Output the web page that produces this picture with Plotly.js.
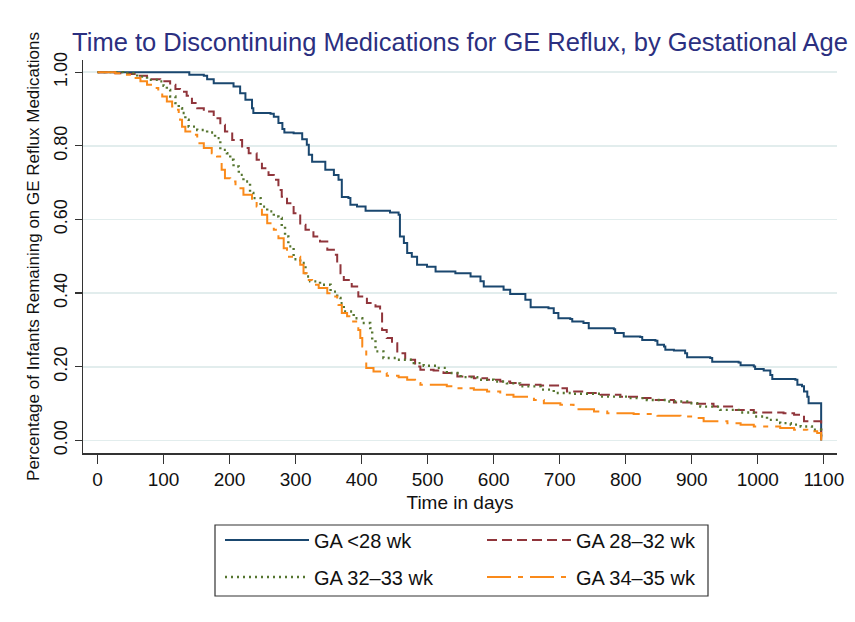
<!DOCTYPE html>
<html>
<head>
<meta charset="utf-8">
<script src="https://cdn.plot.ly/plotly-3.0.1.min.js"></script>
<style>
  html, body { margin: 0; padding: 0; background: #ffffff; }
  #chart { width: 855px; height: 622px; }
</style>
</head>
<body>
<div id="chart"></div>
<script>
// ---- Data (Kaplan-Meier step estimates) ----
const seriesNames = ["GA <28 wk", "GA 28\u201332 wk", "GA 32\u201333 wk", "GA 34\u201335 wk"];

const daysLt28 = [0,139,161,166,176,206,216,224,234,236,262,267,274,280,283,297,310,317,320,325,345,358,365,370,380,383,393,406,443,456,458,464,469,476,484,499,512,542,565,580,585,615,625,648,656,683,691,698,716,719,736,744,782,784,797,822,825,845,848,858,860,873,890,893,928,931,971,974,994,996,1009,1019,1022,1057,1060,1067,1070,1075,1077,1096];
const survLt28 = [1.0,0.993,0.99,0.981,0.970,0.961,0.943,0.925,0.902,0.889,0.887,0.879,0.862,0.846,0.836,0.834,0.818,0.803,0.776,0.757,0.735,0.721,0.708,0.661,0.658,0.640,0.635,0.624,0.619,0.613,0.554,0.536,0.509,0.499,0.477,0.472,0.459,0.454,0.445,0.432,0.418,0.409,0.398,0.382,0.362,0.359,0.346,0.332,0.330,0.323,0.319,0.305,0.302,0.292,0.282,0.281,0.273,0.271,0.260,0.255,0.246,0.244,0.237,0.226,0.224,0.214,0.212,0.204,0.201,0.194,0.190,0.178,0.167,0.165,0.151,0.147,0.133,0.119,0.101,0.0];

const days28to32 = [0,27,45,60,75,95,110,118,125,135,143,151,161,176,186,193,204,219,229,241,249,259,267,274,279,287,297,307,315,327,337,348,358,363,368,373,385,395,408,421,428,431,438,446,454,466,481,489,509,524,545,570,590,610,625,640,671,701,711,736,762,792,822,842,873,903,933,964,994,1039,1055,1070,1096];
const surv28to32 = [1.0,0.997,0.995,0.99,0.981,0.975,0.966,0.954,0.947,0.936,0.916,0.902,0.893,0.875,0.857,0.839,0.816,0.794,0.780,0.762,0.739,0.721,0.708,0.680,0.662,0.644,0.617,0.586,0.572,0.554,0.540,0.518,0.504,0.482,0.454,0.436,0.418,0.391,0.373,0.364,0.350,0.300,0.278,0.264,0.237,0.219,0.201,0.192,0.190,0.183,0.174,0.169,0.165,0.160,0.156,0.151,0.149,0.142,0.133,0.129,0.124,0.119,0.115,0.110,0.103,0.100,0.092,0.083,0.076,0.074,0.070,0.052,0.0];

const days32to33 = [0,39,60,75,95,100,105,110,118,123,128,133,138,151,166,178,186,196,201,206,214,221,231,236,247,257,267,274,279,284,289,297,307,315,322,337,353,363,368,373,388,401,413,416,421,433,454,479,494,514,529,550,575,600,620,640,671,691,721,762,802,832,863,893,913,943,974,994,1014,1034,1050,1065,1082,1096];
const surv32to33 = [1.0,0.997,0.988,0.979,0.975,0.963,0.952,0.934,0.916,0.902,0.889,0.871,0.852,0.843,0.836,0.821,0.789,0.780,0.762,0.744,0.721,0.703,0.672,0.658,0.635,0.622,0.608,0.604,0.581,0.554,0.527,0.492,0.482,0.445,0.432,0.423,0.404,0.387,0.373,0.350,0.332,0.319,0.305,0.273,0.242,0.224,0.219,0.210,0.203,0.197,0.183,0.172,0.165,0.160,0.155,0.147,0.138,0.129,0.127,0.119,0.115,0.110,0.106,0.101,0.092,0.083,0.076,0.065,0.056,0.047,0.043,0.038,0.029,0.0];

const days34to35 = [0,27,42,52,65,75,85,92,98,105,113,118,123,125,128,133,143,151,161,173,181,188,193,201,209,221,234,241,249,257,267,274,282,287,307,312,317,325,335,348,358,363,365,370,378,385,395,398,401,406,407,418,428,438,456,469,481,489,529,545,570,590,610,630,661,676,701,721,752,772,812,848,883,903,918,954,974,994,1034,1055,1075,1090,1096];
const surv34to35 = [1.0,0.997,0.993,0.984,0.975,0.966,0.957,0.947,0.934,0.920,0.907,0.898,0.889,0.871,0.852,0.839,0.830,0.807,0.794,0.780,0.771,0.735,0.712,0.703,0.685,0.667,0.653,0.635,0.613,0.590,0.572,0.549,0.522,0.499,0.477,0.454,0.436,0.423,0.414,0.400,0.391,0.382,0.368,0.346,0.337,0.323,0.300,0.278,0.255,0.246,0.197,0.187,0.183,0.176,0.172,0.165,0.156,0.151,0.147,0.142,0.138,0.133,0.124,0.119,0.110,0.101,0.097,0.085,0.079,0.074,0.072,0.067,0.065,0.061,0.052,0.047,0.043,0.038,0.034,0.029,0.025,0.020,0.0];

const xTickVals = [0,100,200,300,400,500,600,700,800,900,1000,1100];
const yTickVals = [0,0.2,0.4,0.6,0.8,1.0];
const yTickText = ["0.00","0.20","0.40","0.60","0.80","1.00"];

// ---- Styles ----
const FONT = "Liberation Sans, Arial, Helvetica, sans-serif";
const styles = [
  {color: "#1a476f", dash: "solid", width: 2, legend: "legend",  legendwidth: 163},
  {color: "#90353b", dash: "10px,5px", width: 2, legend: "legend", legendwidth: 130},
  {color: "#55752f", dash: "2px,4px", width: 2.4, legend: "legend2", legendwidth: 163},
  {color: "#fa8a1a", dash: "24px,7px,5px,7px", width: 2, legend: "legend2", legendwidth: 130}
];
const xs = [daysLt28, days28to32, days32to33, days34to35];
const ys = [survLt28, surv28to32, surv32to33, surv34to35];

const traces = seriesNames.map((name, i) => ({
  type: "scatter",
  mode: "lines",
  name: name,
  x: xs[i],
  y: ys[i],
  line: {shape: "hv", color: styles[i].color, width: styles[i].width, dash: styles[i].dash},
  legend: styles[i].legend,
  legendwidth: styles[i].legendwidth,
  hoverinfo: "skip"
}));

const layout = {
  width: 855,
  height: 622,
  margin: {l: 83, r: 18, t: 60, b: 169, pad: 0, autoexpand: false},
  paper_bgcolor: "#ffffff",
  plot_bgcolor: "#ffffff",
  font: {family: FONT, color: "#111111"},
  title: {
    text: "Time to Discontinuing Medications for GE Reflux, by Gestational Age",
    font: {family: FONT, size: 25.5, color: "#2b2f80"},
    x: 0.5, xref: "paper", xanchor: "center",
    y: 1 - 42/622, yref: "container", yanchor: "middle"
  },
  xaxis: {
    range: [-22, 1120],
    tickvals: xTickVals,
    ticks: "outside", ticklen: 9, tickwidth: 1.3, tickcolor: "#333333",
    showline: true, linecolor: "#333333", linewidth: 1.5,
    showgrid: false, zeroline: false,
    tickfont: {family: FONT, size: 19, color: "#111111"},
    title: {text: "Time in days", font: {family: FONT, size: 19, color: "#111111"}, standoff: 6}
  },
  yaxis: {
    range: [-0.034, 1.033],
    tickvals: yTickVals,
    ticktext: yTickText,
    tickangle: -90,
    ticks: "outside", ticklen: 7, tickwidth: 1.3, tickcolor: "#333333",
    showline: true, linecolor: "#333333", linewidth: 1.5,
    showgrid: true, gridcolor: "#e2eded", gridwidth: 1.5,
    zeroline: false,
    tickfont: {family: FONT, size: 18, color: "#111111"},
    title: {text: "Percentage of Infants Remaining on GE Reflux Medications", font: {family: FONT, size: 17, color: "#111111"}, standoff: 7}
  },
  legend: {
    orientation: "h", x: (220-83)/754, xanchor: "left", y: (453-540)/393, yanchor: "middle",
    itemwidth: 84, bgcolor: "rgba(0,0,0,0)", borderwidth: 0,
    font: {family: FONT, size: 20, color: "#111111"}
  },
  legend2: {
    orientation: "h", x: (220-83)/754, xanchor: "left", y: (453-577)/393, yanchor: "middle",
    itemwidth: 84, bgcolor: "rgba(0,0,0,0)", borderwidth: 0,
    font: {family: FONT, size: 20, color: "#111111"}
  },
  shapes: [{
    type: "rect", xref: "paper", yref: "paper",
    x0: (215-83)/754, x1: (708-83)/754, y0: (453-596)/393, y1: (453-525)/393,
    line: {color: "#333333", width: 1.2}, fillcolor: "rgba(0,0,0,0)", layer: "above"
  }],
  showlegend: true
};

Plotly.newPlot("chart", traces, layout, {displayModeBar: false, staticPlot: true});
</script>
</body>
</html>
